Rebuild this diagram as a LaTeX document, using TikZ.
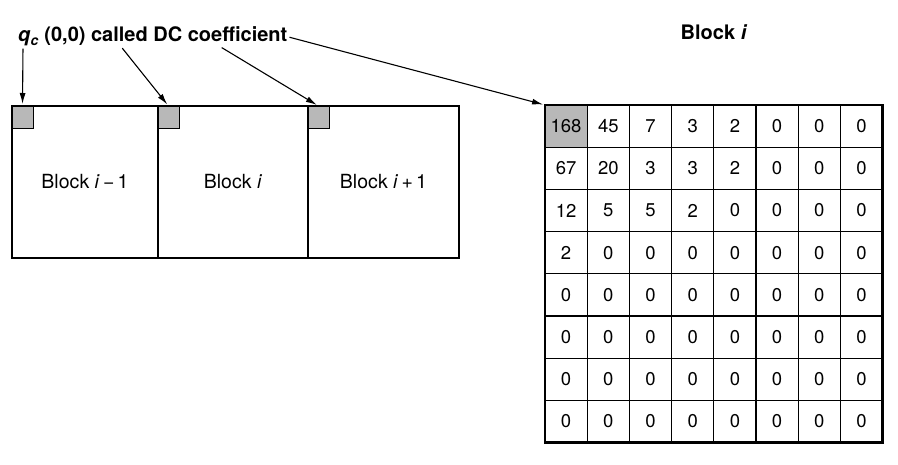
\documentclass[tikz,border=0pt]{standalone}
\usepackage{fontspec}
\setmainfont{TeX Gyre Heros}
\usepackage{tikz}
\usetikzlibrary{positioning,arrows.meta}
\tikzstyle{blk} = [draw, line width=1.2pt, minimum height=152pt, inner sep=0pt, outer sep=0pt, font={\fontsize{19.5}{22}\selectfont}]
\tikzstyle{dcsq} = [draw, fill=black!28, line width=1pt, minimum width=21pt, minimum height=23pt, inner sep=0pt, outer sep=0pt, anchor=north west]
\tikzstyle{cell} = [draw, line width=1.3pt, minimum size=42.2pt, inner sep=0pt, outer sep=0pt, font={\fontsize{18.5}{18.5}\selectfont}]
\tikzstyle{lbl} = [inner sep=0pt, font={\bfseries\fontsize{20}{22}\selectfont}]
\tikzstyle{ptr} = [-{Latex[length=11pt,width=6pt]}, line width=1.1pt, shorten <=2pt, shorten >=2pt]

\begin{document}
\begin{tikzpicture}[x=1pt,y=-1pt]
        \useasboundingbox (0,0) rectangle (898,465);
        \node[lbl,anchor=base west](lbl) at (18,42){\textit{q}\textsubscript{\textit{c}} (0,0) called DC coefficient};
        \node[lbl](ttl) at (714,32){Block \textit{i}};
        \node[blk,minimum width=146pt](b1) at (85,182){Block \textit{i}\,−\,1};
        \node[blk,minimum width=150pt,right=0pt of b1](b2){Block \textit{i}};
        \node[blk,minimum width=151pt,right=0pt of b2](b3){Block \textit{i}\,+\,1};
        \node[dcsq](s1) at (b1.north west){};
        \node[dcsq](s2) at (b2.north west){};
        \node[dcsq](s3) at (b3.north west){};
        \draw[line width=2.4pt](b1.north west) rectangle (b3.south east);
        \foreach \row [count=\r] in {{168,45,7,3,2,0,0,0},{67,20,3,3,2,0,0,0},{12,5,5,2,0,0,0,0},{2,0,0,0,0,0,0,0},
          {0,0,0,0,0,0,0,0},{0,0,0,0,0,0,0,0},{0,0,0,0,0,0,0,0},{0,0,0,0,0,0,0,0}}
          \foreach \v [count=\c] in \row {
            \pgfmathtruncatemacro\shade{(\r==1)&&(\c==1) ? 28 : 0}
            \node[cell,fill=black!\shade](m-\r-\c) at ({545+42.2*(\c-0.5)},{105+42.2*(\r-0.5)}){\v};
          }
        \draw[line width=2.8pt](m-1-1.north west) rectangle (m-8-8.south east);
        \draw[ptr]([xshift=5pt]lbl.south west)--(s1.north);
        \draw[ptr]([xshift=103pt]lbl.south west)--(s2.north);
        \draw[ptr]([xshift=202pt]lbl.south west)--(s3.north);
        \draw[ptr](lbl.east)--(m-1-1.north west);
      \end{tikzpicture}
\end{document}
